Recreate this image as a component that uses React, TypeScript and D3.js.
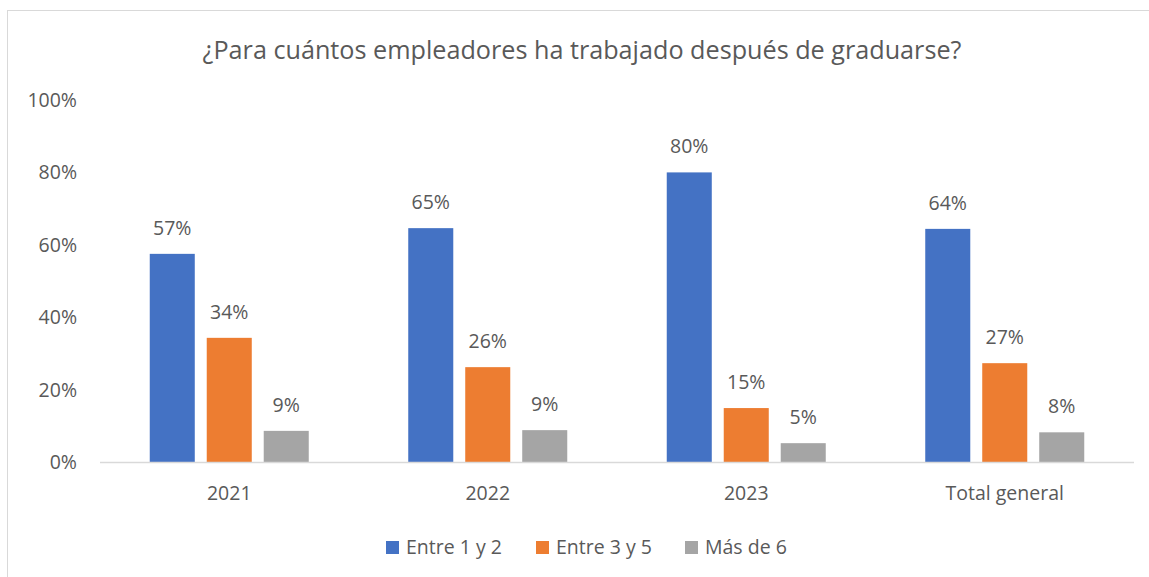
import React, { useEffect, useRef } from "react";
import * as d3 from "d3";

const categories = ["2021", "2022", "2023", "Total general"];
const seriesNames = ["Entre 1 y 2", "Entre 3 y 5", "Más de 6"];
const entre1y2 = [0.575, 0.646, 0.8, 0.644];
const entre3y5 = [0.343, 0.262, 0.149, 0.273];
const masDe6 = [0.086, 0.088, 0.052, 0.082];
const yTicks = [0, 0.2, 0.4, 0.6, 0.8, 1];
const colors = ["#4472c4", "#ed7d31", "#a5a5a5"];

const W = 1149;
const H = 577;
const FONT = "'Open Sans', sans-serif";
const TEXT = "#595959";
const FS = 19.5;

export default function App() {
  const ref = useRef<SVGSVGElement>(null);

  useEffect(() => {
    const svg = d3.select(ref.current);
    svg.selectAll("*").remove();

    const values = [entre1y2, entre3y5, masDe6];

    // chart border
    svg
      .append("rect")
      .attr("x", 7.5)
      .attr("y", 10.5)
      .attr("width", W + 20)
      .attr("height", H + 20)
      .attr("fill", "#fff")
      .attr("stroke", "#d9d9d9");

    svg
      .append("text")
      .attr("x", 582)
      .attr("y", 59)
      .attr("text-anchor", "middle")
      .attr("font-family", FONT)
      .attr("font-size", 25.2)
      .attr("fill", TEXT)
      .text("¿Para cuántos empleadores ha trabajado después de graduarse?");

    const x0 = d3.scaleBand().domain(categories).range([100, 1134]);
    const x1 = d3
      .scaleBand()
      .domain(seriesNames)
      .range([-79.5, 79.5])
      .paddingInner(0.21);
    const y = d3.scaleLinear().domain([0, 1]).range([462, 100]);

    // y tick labels
    svg
      .append("g")
      .selectAll("text")
      .data(yTicks)
      .join("text")
      .attr("x", 77)
      .attr("y", (d) => y(d) + 7)
      .attr("text-anchor", "end")
      .attr("font-family", FONT)
      .attr("font-size", FS)
      .attr("fill", TEXT)
      .text((d) => d3.format(".0%")(d));

    // bars
    const groups = svg
      .append("g")
      .selectAll("g")
      .data(categories)
      .join("g")
      .attr("transform", (d) => `translate(${x0(d)! + x0.bandwidth() / 2},0)`);

    groups
      .selectAll("rect")
      .data((_, i) => seriesNames.map((s, j) => ({ s, j, v: values[j][i] })))
      .join("rect")
      .attr("x", (d) => x1(d.s)!)
      .attr("y", (d) => y(d.v))
      .attr("width", x1.bandwidth())
      .attr("height", (d) => y(0) - y(d.v))
      .attr("fill", (d) => colors[d.j]);

    groups
      .selectAll("text")
      .data((_, i) => seriesNames.map((s, j) => ({ s, j, v: values[j][i] })))
      .join("text")
      .attr("x", (d) => x1(d.s)! + x1.bandwidth() / 2)
      .attr("y", (d) => y(d.v) - 19)
      .attr("text-anchor", "middle")
      .attr("font-family", FONT)
      .attr("font-size", FS)
      .attr("fill", TEXT)
      .text((d) => d3.format(".0%")(d.v));

    // x axis
    svg
      .append("line")
      .attr("x1", 100)
      .attr("x2", 1134)
      .attr("y1", 462.5)
      .attr("y2", 462.5)
      .attr("stroke", "#d9d9d9")
      .attr("stroke-width", 1.5);

    svg
      .append("g")
      .selectAll("text")
      .data(categories)
      .join("text")
      .attr("x", (d) => x0(d)! + x0.bandwidth() / 2)
      .attr("y", 500)
      .attr("text-anchor", "middle")
      .attr("font-family", FONT)
      .attr("font-size", FS)
      .attr("fill", TEXT)
      .text((d) => d);

    // legend
    const legendX = [386, 536, 685];
    const legend = svg
      .append("g")
      .selectAll("g")
      .data(seriesNames)
      .join("g")
      .attr("transform", (_, i) => `translate(${legendX[i]},541)`);
    legend
      .append("rect")
      .attr("width", 13)
      .attr("height", 13)
      .attr("fill", (_, i) => colors[i]);
    legend
      .append("text")
      .attr("x", 20)
      .attr("y", 13)
      .attr("font-family", FONT)
      .attr("font-size", FS)
      .attr("fill", TEXT)
      .text((d) => d);
  }, []);

  return (
    <svg
      ref={ref}
      width={W}
      height={H}
      style={{ position: "absolute", left: 0, top: 0, background: "#fff" }}
    />
  );
}
